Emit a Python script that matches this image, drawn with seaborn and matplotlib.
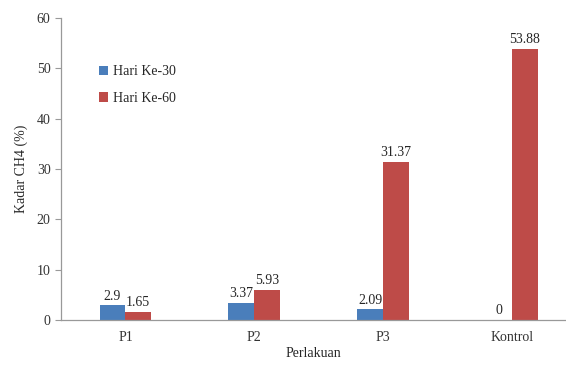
import matplotlib
matplotlib.use("Agg")
import matplotlib.pyplot as plt
import seaborn as sns
import pandas as pd

categories = ["P1", "P2", "P3", "Kontrol"]
hari_30 = [2.9, 3.37, 2.09, 0]
hari_60 = [1.65, 5.93, 31.37, 53.88]
series_names = ["Hari Ke-30", "Hari Ke-60"]
colors = ["#4a7ebb", "#be4b48"]

df = pd.DataFrame({
    "Perlakuan": categories * 2,
    "Kadar": hari_30 + hari_60,
    "Seri": [series_names[0]] * 4 + [series_names[1]] * 4,
})

sns.set_style("white")
plt.rcParams["font.family"] = ["Liberation Serif", "DejaVu Serif"]

fig = plt.figure(figsize=(5.66, 3.67), dpi=100)
ax = fig.add_axes([61 / 566, 1 - 320 / 367, (566 - 61) / 566, 302 / 367])

sns.barplot(data=df, x="Perlakuan", y="Kadar", hue="Seri", palette=colors,
            width=0.4, saturation=1, linewidth=0, ax=ax, legend=True)

for container, vals in zip(ax.containers, [hari_30, hari_60]):
    labels = [f"{v:g}" for v in vals]
    ax.bar_label(container, labels=labels, padding=2, fontsize=10)

ax.set_ylim(0, 60)
ax.set_yticks(range(0, 61, 10))
ax.set_xlim(-0.5, 3.42)
ax.set_xlabel("Perlakuan", fontsize=10, labelpad=2)
ax.set_ylabel("Kadar CH4 (%)", fontsize=10, labelpad=6)
ax.tick_params(axis="both", labelsize=10, colors="#333333")
ax.tick_params(axis="y", length=4, width=0.8, color="#999999", left=True)
ax.tick_params(axis="x", length=0, pad=8)

for side in ["top", "right"]:
    ax.spines[side].set_visible(False)
for side in ["left", "bottom"]:
    ax.spines[side].set_color("#999999")
    ax.spines[side].set_linewidth(0.9)

ax.legend(loc="upper left", bbox_to_anchor=(0.05, 0.885), frameon=False,
          fontsize=10, handlelength=0.7, handleheight=0.7, handletextpad=0.3,
          labelspacing=1.0)

fig.savefig("out.png", dpi=100)
